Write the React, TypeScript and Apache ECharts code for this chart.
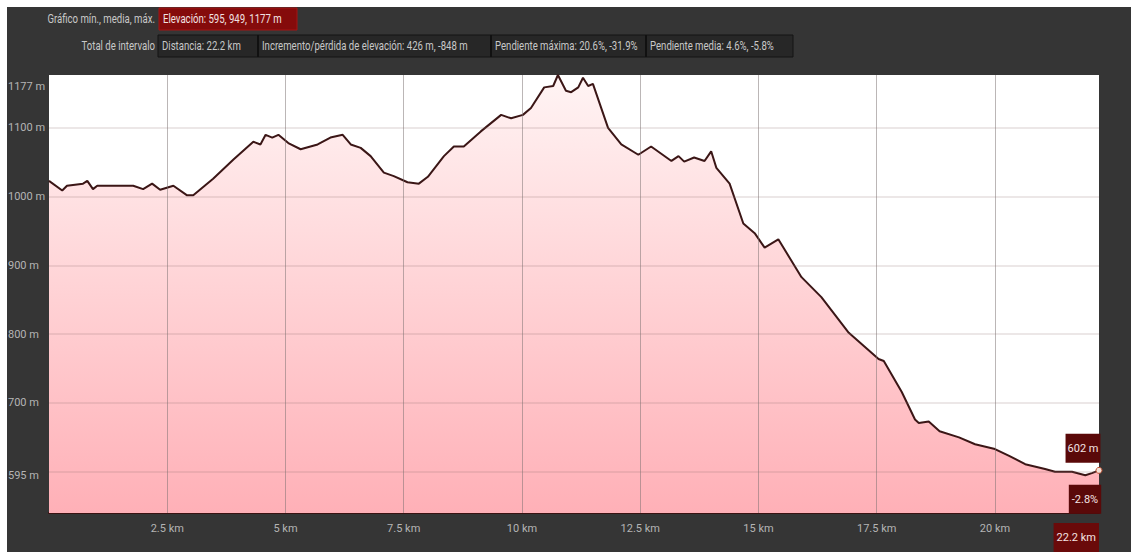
import React, { useEffect, useRef } from "react";
import * as echarts from "echarts";

// ---- data ----
const distanceKm = [
  0, 0.28, 0.38, 0.72, 0.81, 0.93, 1.02, 1.78, 1.99, 2.18, 2.35, 2.63, 2.92, 3.05,
  3.47, 3.9, 4.32, 4.47, 4.58, 4.72, 4.85, 5.06, 5.32, 5.68, 5.95, 6.21, 6.38, 6.59,
  6.8, 7.08, 7.29, 7.58, 7.82, 8.01, 8.35, 8.56, 8.77, 9.13, 9.56, 9.77, 10.02, 10.19,
  10.47, 10.66, 10.76, 10.93, 11.04, 11.19, 11.29, 11.4, 11.5, 11.82, 12.1, 12.46,
  12.73, 13.16, 13.31, 13.43, 13.64, 13.86, 14.0, 14.11, 14.39, 14.68, 14.92, 15.13,
  15.42, 15.91, 16.33, 16.91, 17.54, 17.65, 18.03, 18.31, 18.39, 18.6, 18.83, 19.24,
  19.58, 20.0, 20.3, 20.64, 21.06, 21.27, 21.63, 21.91, 22.05, 22.2,
];
const elevationM = [
  1023, 1009, 1016, 1019, 1023, 1011, 1016, 1016, 1011, 1019, 1010, 1016, 1002, 1002,
  1026, 1054, 1080, 1076, 1090, 1086, 1090, 1078, 1069, 1076, 1086, 1090, 1076, 1071,
  1059, 1035, 1030, 1021, 1019, 1029, 1059, 1073, 1073, 1095, 1119, 1114, 1119, 1129,
  1159, 1161, 1177, 1154, 1152, 1159, 1173, 1161, 1164, 1100, 1076, 1061,
  1073, 1052, 1059, 1051, 1057, 1052, 1066, 1042, 1019, 961, 947, 926,
  938, 883, 854, 802, 764, 761, 716, 676, 671, 673, 659, 650,
  640, 633, 623, 611, 604, 600, 600, 595, 598, 602,
];
const yLabelValues = [595, 700, 800, 900, 1000, 1100, 1177];
const gridElevations = [600, 700, 800, 900, 1000, 1100];
const gridDistances = [2.5, 5, 7.5, 10, 12.5, 15, 17.5, 20];
const endElevationLabel = "602 m";
const endSlopeLabel = "-2.8%";
const headerRow1Label = "Gráfico mín., media, máx.";
const headerRow1Value = "Elevación: 595, 949, 1177 m";
const headerRow2Label = "Total de intervalo";
const headerRow2Values = [
  "Distancia: 22.2 km",
  "Incremento/pérdida de elevación: 426 m, -848 m",
  "Pendiente máxima: 20.6%, -31.9%",
  "Pendiente media: 4.6%, -5.8%",
];

const FONT = "Roboto, 'Liberation Sans', sans-serif";
const SQUEEZE = 0.8;

export default function App() {
  const ref = useRef<HTMLDivElement>(null);

  useEffect(() => {
    if (!ref.current) return;
    const chart = echarts.init(ref.current, undefined, { renderer: "svg" });
    const data = distanceKm.map((d, i) => [d, elevationM[i]]);
    const boxXs = [158, 258, 491, 646, 793];

    const txt = (x: number, y: number, text: string, align: string, fill: string) => ({
      type: "text", x, y, scaleX: SQUEEZE,
      style: { text, align, verticalAlign: "middle", fill, font: `12px ${FONT}` },
    });

    const graphic: any[] = [
      { type: "rect", shape: { x: 0, y: 0, width: 1131, height: 7 }, style: { fill: "#ffffff" }, silent: true },
      { type: "rect", shape: { x: 0, y: 0, width: 7, height: 552 }, style: { fill: "#ffffff" }, silent: true },
      txt(155, 19, headerRow1Label, "right", "#c8c8c8"),
      {
        type: "rect", shape: { x: 159, y: 8, width: 138, height: 22 },
        style: { fill: "#850b0b", stroke: "#a51414", lineWidth: 1 },
      },
      txt(163, 19, headerRow1Value, "left", "#f2e2e2"),
      txt(155, 46, headerRow2Label, "right", "#c8c8c8"),
      {
        type: "rect", shape: { x: 158, y: 35, width: 635, height: 22 },
        style: { fill: "#272727", stroke: "#151515", lineWidth: 1 },
      },
    ];
    boxXs.slice(1, 4).forEach((x) => {
      graphic.push({
        type: "line", shape: { x1: x, y1: 35, x2: x, y2: 57 },
        style: { stroke: "#111111", lineWidth: 2 },
      });
    });
    headerRow2Values.forEach((t, i) => {
      graphic.push(txt(boxXs[i] + 4, 46, t, "left", "#c8c8c8"));
    });

    chart.setOption({
      animation: false,
      backgroundColor: "#353535",
      textStyle: { fontFamily: FONT },
      graphic,
      grid: {
        left: 49, right: 32, top: 75, bottom: 32,
        show: true, backgroundColor: "#ffffff", borderWidth: 0,
      },
      xAxis: {
        type: "value", min: 0, max: 22.2, interval: 2.5,
        axisLine: { show: true, lineStyle: { color: "#3a1212", width: 2 } },
        axisTick: { show: false },
        splitLine: { show: false },
        axisLabel: {
          color: "#b4b4b4", fontSize: 11, fontFamily: FONT, margin: 10, hideOverlap: false,
          showMaxLabel: true,
          alignMaxLabel: "right",
          formatter: (v: number) => {
            if (v === 0) return "";
            if (Math.abs(v - 22.2) < 1e-6) return "{end|22.2 km}";
            return `${v} km`;
          },
          rich: {
            end: {
              color: "#f4e4e4", fontSize: 11, fontFamily: FONT,
              backgroundColor: "#6a0a0a", padding: [9, 3, 9, 3],
            },
          },
        },
      },
      yAxis: {
        type: "value", min: 540, max: 1177,
        axisLine: { show: false },
        axisTick: { show: false },
        splitLine: { show: false },
        axisLabel: {
          customValues: yLabelValues,
          showMinLabel: true, showMaxLabel: true,
          align: "left", margin: 41,
          color: "#b4b4b4", fontSize: 11, fontFamily: FONT,
          formatter: (v: number) => {
            if (v === 1177) return "{top|1177 m}";
            return `${v} m`;
          },
          rich: {
            top: { color: "#b4b4b4", fontSize: 11, fontFamily: FONT, padding: [22, 0, 0, 0] },
          },
        },
      },
      series: [
        {
          type: "line",
          data,
          showSymbol: false,
          smooth: false,
          lineStyle: { color: "#3b1616", width: 2 },
          areaStyle: {
            color: new echarts.graphic.LinearGradient(0, 0, 0, 1, [
              { offset: 0, color: "#fff4f4" },
              { offset: 0.5, color: "#ffd2d5" },
              { offset: 1, color: "#ffb0b7" },
            ]),
            opacity: 1,
          },
          markLine: {
            silent: true,
            symbol: ["none", "none"],
            label: { show: false },
            lineStyle: { color: "rgba(140,110,110,0.22)", width: 1.5, type: "solid" },
            data: [
              ...gridElevations.map((v) => ({ yAxis: v })),
              ...gridDistances.map((v) => ({ xAxis: v, lineStyle: { color: "rgba(120,110,110,0.5)", width: 1, type: "solid" } })),
            ],
          },
          markPoint: {
            silent: true,
            data: [
              {
                coord: [distanceKm[distanceKm.length - 1], elevationM[elevationM.length - 1]],
                symbol: "circle", symbolSize: 6,
                itemStyle: { color: "#f0e0d8", borderColor: "#c05030", borderWidth: 1 },
                label: { show: false },
              },
              {
                coord: [distanceKm[distanceKm.length - 1], elevationM[elevationM.length - 1]],
                symbol: "rect", symbolSize: 0,
                label: {
                  show: true, position: "inside", offset: [-16, -22],
                  formatter: endElevationLabel,
                  color: "#f4e4e4", fontSize: 11, fontFamily: FONT,
                  backgroundColor: "#5a0909", padding: [9, 2, 9, 2],
                },
              },
              {
                coord: [distanceKm[distanceKm.length - 1], elevationM[elevationM.length - 1]],
                symbol: "rect", symbolSize: 0,
                label: {
                  show: true, position: "inside", offset: [-14, 29],
                  formatter: endSlopeLabel,
                  color: "#f4e4e4", fontSize: 11, fontFamily: FONT,
                  backgroundColor: "#5a0909", padding: [9, 3, 9, 3],
                },
              },
            ],
          },
        },
      ],
    });

    return () => chart.dispose();
  }, []);

  return (
    <div
      ref={ref}
      style={{ position: "fixed", left: 0, top: 0, width: 1131, height: 552 }}
    />
  );
}
